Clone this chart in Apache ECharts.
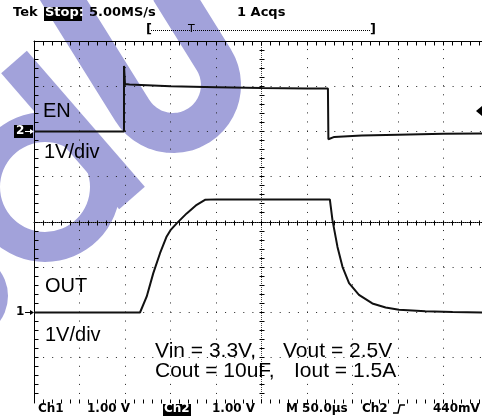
<!DOCTYPE html>
<html>
<head>
<meta charset="utf-8">
<script src="https://cdn.jsdelivr.net/npm/echarts@6/dist/echarts.min.js"></script>
<style>
  html, body { margin: 0; padding: 0; background: #fff; }
  #scope { width: 482px; height: 419px; }
</style>
</head>
<body>
<div id="scope"></div>
<script>
// time in us from left edge of screen, volts
var enTime  = [0, 98.9, 98.9, 100, 105, 150, 200, 250, 300, 323, 323.5, 330, 360, 400, 450, 500];
var enVolt  = [0, 0, 1.45, 1.05, 1.04, 1.0, 0.98, 0.96, 0.95, 0.95, -0.17, -0.12, -0.09, -0.07, -0.05, -0.04];
var outTime = [0, 116.5, 123.8, 131.1, 138.5, 145.8, 150, 156.8, 167.8, 178.8, 187.9, 200, 250, 300, 325.1,
               328.0, 333.5, 339.0, 346.2, 357.1, 371.8, 386.4, 401.1, 430, 460, 500];
var outVolt = [0, 0, 0.35, 0.87, 1.31, 1.68, 1.82, 1.97, 2.19, 2.38, 2.49, 2.5, 2.5, 2.5, 2.5,
               2.04, 1.45, 1.01, 0.65, 0.39, 0.2, 0.11, 0.06, 0.03, 0.01, 0];
var ch1Pos = -2, ch2Pos = 2, voltsPerDiv = 1;
var timeTicks = [0, 500, 50];   // min, max, us per div
var divTicks = [-4, 4, 1];
var minorPerDiv = 5;

var wm = '#a2a2da';
var mono = '"DejaVu Sans"';
var sans = '"Liberation Sans", Arial';

function toDiv(t, v, pos) {
    var res = [];
    for (var i = 0; i < t.length; i++) res.push([t[i], v[i] / voltsPerDiv + pos]);
    return res;
}

// watermark letter stroke (a tilted U), centre of the bend cx,cy
function uPath(cx, cy, R, L1, L2) {
    var d = [0.53, 0.85], n = [0.85, -0.53];
    var pts = [[cx - R * n[0] - L1 * d[0], cy - R * n[1] - L1 * d[1]]];
    var a0 = Math.atan2(-n[1], -n[0]), a1 = Math.atan2(n[1], n[0]);
    if (a1 > a0) a1 -= Math.PI * 2;
    for (var k = 0; k <= 24; k++) {
        var a = a0 + (a1 - a0) * k / 24;
        pts.push([cx + R * Math.cos(a), cy + R * Math.sin(a)]);
    }
    pts.push([cx + R * n[0] - L2 * d[0], cy + R * n[1] - L2 * d[1]]);
    return pts;
}

function crisp(v) { return Math.round(v - 0.5) + 0.5; }

function seg(x1, y1, x2, y2, dash, color) {
    return { type: 'line', shape: { x1: x1, y1: y1, x2: x2, y2: y2 },
        style: { stroke: color || '#000', lineWidth: 1, lineDash: dash || null } };
}

// scope graticule: dotted division lines, dense centre cross, minor ticks
function renderGraticule(params, api) {
    var kids = [];
    var t0 = timeTicks[0], t1 = timeTicks[1], dt = timeTicks[2];
    var v0 = divTicks[0], v1 = divTicks[1], dv = divTicks[2];
    var tc = (t0 + t1) / 2, vc = (v0 + v1) / 2;
    var top = api.coord([t0, v1])[1], bottom = api.coord([t0, v0])[1];
    var left = api.coord([t0, v0])[0], right = api.coord([t1, v0])[0];
    var cx = crisp(api.coord([tc, vc])[0]), cy = crisp(api.coord([tc, vc])[1]);
    var i, x, y;
    for (i = 1; i < Math.round((t1 - t0) / dt); i++) {
        x = crisp(api.coord([t0 + i * dt, vc])[0]);
        if (Math.abs(x - cx) < 1) continue;
        kids.push(seg(x, bottom, x, top, [1, (bottom - top) / ((v1 - v0) / dv * minorPerDiv) - 1], '#222'));
    }
    for (i = 1; i < Math.round((v1 - v0) / dv); i++) {
        y = crisp(api.coord([tc, v0 + i * dv])[1]);
        if (Math.abs(y - cy) < 1) continue;
        kids.push(seg(left, y, right, y, [1, (right - left) / ((t1 - t0) / dt * minorPerDiv) - 1], '#222'));
    }
    kids.push(seg(cx, top, cx, bottom, [1, 1], '#444'));
    kids.push(seg(left, cy, right, cy, [1, 1], '#444'));
    var nT = Math.round((t1 - t0) / dt * minorPerDiv);
    for (i = 1; i < nT; i++) {
        x = crisp(api.coord([t0 + i * dt / minorPerDiv, vc])[0]);
        kids.push(seg(x, crisp(top), x, crisp(top) + 4));
        kids.push(seg(x, crisp(bottom), x, crisp(bottom) - 4));
        kids.push(seg(x, cy - 2, x, cy + 3));
    }
    var nV = Math.round((v1 - v0) / dv * minorPerDiv);
    for (i = 1; i < nV; i++) {
        y = crisp(api.coord([tc, v0 + i * dv / minorPerDiv])[1]);
        kids.push(seg(crisp(left), y, crisp(left) + 4, y));
        kids.push(seg(cx - 2, y, cx + 3, y));
    }
    return { type: 'group', children: kids };
}

function txt(x, y, s, font, fill, z) {
    return { type: 'text', x: x, y: y, z: z || 50,
        style: { text: s, font: font, fill: fill || '#000', verticalAlign: 'top' } };
}

function borderAxis(pos) {
    return {
        position: pos,
        axisLine: { show: true, lineStyle: { color: '#000', width: 1 } },
        axisTick: { show: false },
        axisLabel: { show: false },
        splitLine: { show: false }
    };
}

function ext(base, more) {
    var o = {};
    for (var k in base) o[k] = base[k];
    for (var j in more) o[j] = more[j];
    return o;
}

var chart = echarts.init(document.getElementById('scope'), null, { renderer: 'canvas' });

var xBase = { type: 'value', min: timeTicks[0], max: timeTicks[1], interval: timeTicks[2] };
var yBase = { type: 'value', min: divTicks[0], max: divTicks[1], interval: divTicks[2] };

var option = {
    animation: false,
    backgroundColor: '#fff',
    grid: { left: 34, top: 41, width: 455, height: 362, outerBoundsMode: 'none', containLabel: false },
    xAxis: [
        ext(xBase, borderAxis('bottom')),
        ext(xBase, borderAxis('top'))
    ],
    yAxis: [
        ext(yBase, borderAxis('left'))
    ],
    series: [
        {
            name: 'graticule', type: 'custom', xAxisIndex: 0, yAxisIndex: 0,
            data: [[timeTicks[0], divTicks[0]]], renderItem: renderGraticule,
            clip: false, silent: true, z: 5
        },
        {
            name: 'EN', type: 'line', xAxisIndex: 0, yAxisIndex: 0,
            data: toDiv(enTime, enVolt, ch2Pos),
            showSymbol: false, lineStyle: { color: '#111', width: 2 }, z: 10
        },
        {
            name: 'OUT', type: 'line', xAxisIndex: 0, yAxisIndex: 0,
            data: toDiv(outTime, outVolt, ch1Pos),
            showSymbol: false, lineStyle: { color: '#111', width: 2 }, z: 10
        }
    ],
    graphic: [
        // watermark
        { type: 'ring', z: -10, shape: { cx: 45, cy: 187, r: 75, r0: 45 }, style: { fill: wm } },
        { type: 'circle', z: -10, shape: { cx: -35, cy: 296, r: 43 }, style: { fill: wm } },
        { type: 'polyline', z: -10, shape: { points: [[14, 62], [132, 198]] },
          style: { stroke: wm, lineWidth: 34, fill: null, lineCap: 'butt' } },
        { type: 'polyline', z: -10, shape: { points: uPath(173, 85, 48, 142, 82) },
          style: { stroke: wm, lineWidth: 40, fill: null, lineCap: 'butt', lineJoin: 'round' } },

        // header
        txt(13, 6, 'Tek', 'bold 13px ' + mono),
        { type: 'rect', z: 49, shape: { x: 44, y: 7, width: 38, height: 14 }, style: { fill: '#000' } },
        txt(45, 6, 'Stop:', 'bold 13px ' + mono, '#fff'),
        txt(89, 6, '5.00MS/s', 'bold 13px ' + mono),
        txt(237, 6, '1 Acqs', 'bold 13px ' + mono),
        txt(146, 23, '[', 'bold 13px ' + mono),
        txt(370, 23, ']', 'bold 13px ' + mono),
        { type: 'line', z: 50, shape: { x1: 151, y1: 30.5, x2: 371, y2: 30.5 },
          style: { stroke: '#000', lineWidth: 1, lineDash: [1, 1] } },
        txt(188, 24, 'T', '11px ' + mono),

        // channel markers
        { type: 'rect', z: 49, shape: { x: 14, y: 125, width: 19, height: 13 }, style: { fill: '#000' } },
        txt(16, 125, '2', 'bold 12px ' + mono, '#fff'),
        { type: 'polyline', z: 50, shape: { points: [[25, 131.5], [33, 131.5]] }, style: { stroke: '#fff', lineWidth: 1, fill: null } },
        { type: 'polygon', z: 50, shape: { points: [[34, 131.5], [30, 129], [30, 134]] }, style: { fill: '#fff' } },
        txt(16, 306, '1', 'bold 12px ' + mono),
        { type: 'polyline', z: 50, shape: { points: [[25, 312.5], [32, 312.5]] }, style: { stroke: '#000', lineWidth: 1, fill: null } },
        { type: 'polygon', z: 50, shape: { points: [[34, 312.5], [30, 310], [30, 315]] }, style: { fill: '#000' } },
        { type: 'polygon', z: 50, shape: { points: [[476, 111], [482, 106], [482, 116]] }, style: { fill: '#000' } },

        // annotations
        txt(43, 101, 'EN', '20px ' + sans),
        txt(44, 142, '1V/div', '20px ' + sans),
        txt(45, 276, 'OUT', '20px ' + sans),
        txt(45, 325, '1V/div', '20px ' + sans),
        txt(155, 341, 'Vin = 3.3V,', '21px ' + sans),
        txt(283, 341, 'Vout = 2.5V', '21px ' + sans),
        txt(155, 361, 'Cout = 10uF,', '21px ' + sans),
        txt(294, 361, 'Iout = 1.5A', '21px ' + sans),

        // footer
        txt(38, 403, 'Ch1', 'bold 12px ' + mono),
        txt(87, 403, '1.00 V', 'bold 12px ' + mono),
        { type: 'rect', z: 49, shape: { x: 163, y: 404, width: 28, height: 12 }, style: { fill: '#000' } },
        txt(164, 403, 'Ch2', 'bold 12px ' + mono, '#fff'),
        txt(212, 403, '1.00 V', 'bold 12px ' + mono),
        txt(286, 403, 'M 50.0\u00b5s', 'bold 12px ' + mono),
        txt(362, 403, 'Ch2', 'bold 12px ' + mono),
        { type: 'polyline', z: 50, shape: { points: [[393, 413], [398, 413], [400, 405], [405, 405]] },
          style: { stroke: '#000', lineWidth: 1.5, fill: null } },
        txt(433, 403, '440mV', 'bold 12px ' + mono)
    ]
};

chart.setOption(option);
</script>
</body>
</html>
